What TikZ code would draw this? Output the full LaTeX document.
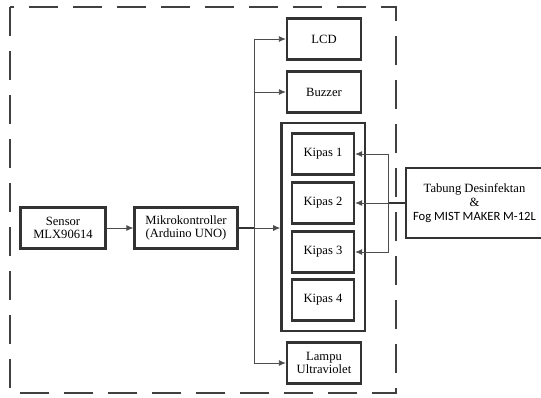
\documentclass[tikz,border=0pt]{standalone}
\usepackage{fontspec}
\setmainfont{Liberation Serif}
\newfontfamily\fogfont{Carlito}
\usetikzlibrary{arrows.meta,fit}

\begin{document}
\begin{tikzpicture}[x=1pt,y=-1pt,
        blok/.style={draw=black!80,line width=2.3pt,minimum height=41pt,inner sep=0pt,align=center,font=\fontsize{12.6}{13.5}\selectfont},
        panah/.style={draw=black!70,line width=0.8pt,-{Latex[length=7pt,width=6pt]}}]
                \clip (0,0) rectangle (541,397);
                \draw[black!75,line width=1.4pt,dash pattern=on 29pt off 15pt] (10,7) rectangle (396,393);
                \node[blok,minimum width=85pt] (sensor) at (63,228) {Sensor\\MLX90614};
                \node[blok,minimum width=103pt] (mikro) at (186,228) {Mikrokontroller\\(Arduino UNO)};
                \node[blok,minimum width=74pt] (lcd) at (324,39) {LCD};
                \node[blok,minimum width=74pt] (buzzer) at (324,92) {Buzzer};
                \node[blok,minimum width=62pt] (kipas1) at (323,154) {Kipas 1};
                \node[blok,minimum width=62pt] (kipas2) at (323,203) {Kipas 2};
                \node[blok,minimum width=62pt] (kipas3) at (323,252) {Kipas 3};
                \node[blok,minimum width=62pt] (kipas4) at (323,300) {Kipas 4};
                \node[draw=black!80,line width=2.3pt,fit=(kipas1)(kipas4),inner sep=9.5pt] (kipas) {};
                \node[blok,minimum width=74pt] (lampu) at (324,363) {Lampu\\Ultraviolet};
                \node[blok,minimum width=137pt,minimum height=70pt,font=\fontsize{12.6}{14}\selectfont] (tabung) at (474.5,203) {Tabung Desinfektan\\\&\\{\fogfont Fog MIST MAKER M-12L}};
                \coordinate (bus) at (254.5,228);
                \coordinate (cabang) at (388.6,203);
                \draw[panah] (sensor) -- (mikro);
                \draw[black!80,line width=1.6pt] (mikro.east) -- (bus);
                \draw[panah] (bus) -- (kipas.west |- bus);
                \draw[panah] (bus) |- (lcd.west);
                \draw[panah] (bus) |- (buzzer.west);
                \draw[panah] (bus) |- (lampu.west);
                \draw[black!80,line width=1.6pt] (tabung.west) -- (cabang);
                \draw[panah] (cabang) -- (kipas2.east);
                \draw[panah] (cabang) |- (kipas1.east);
                \draw[panah] (cabang) |- (kipas3.east);
            \end{tikzpicture}
\end{document}
